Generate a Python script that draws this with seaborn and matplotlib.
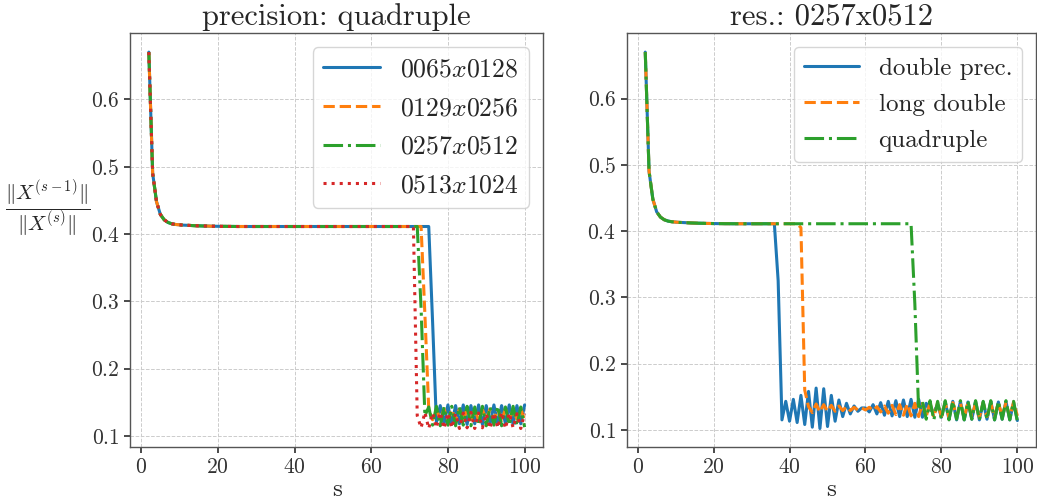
import matplotlib
matplotlib.use("Agg")
import matplotlib.pyplot as plt
from matplotlib.ticker import FuncFormatter
import numpy as np
import pandas as pd
import seaborn as sns

# iteration index
s = list(range(2, 101))

# shared transient (s = 2 .. 35), identical for every run
head = [0.670, 0.490, 0.448, 0.429, 0.421, 0.417, 0.415, 0.414, 0.4135, 0.413,
        0.4128, 0.4125, 0.4122, 0.412, 0.4118, 0.4117, 0.4115, 0.4114, 0.4113, 0.4112,
        0.4112, 0.4111, 0.4111, 0.411, 0.411, 0.411, 0.411, 0.411, 0.411, 0.411,
        0.411, 0.411, 0.411, 0.411]

# quadruple precision, resolution sweep (s = 36 .. 100)
quad_0065 = head + [
    0.411, 0.411, 0.411, 0.411, 0.411, 0.411, 0.411, 0.411, 0.411, 0.411,
    0.411, 0.411, 0.411, 0.411, 0.411, 0.411, 0.411, 0.411, 0.411, 0.411,
    0.411, 0.411, 0.411, 0.411, 0.411, 0.411, 0.411, 0.411, 0.411, 0.411,
    0.411, 0.411, 0.411, 0.411, 0.411, 0.411, 0.411, 0.411, 0.411, 0.411,
    0.270, 0.120, 0.145, 0.118, 0.146, 0.117, 0.145, 0.118, 0.146, 0.117,
    0.145, 0.118, 0.146, 0.117, 0.145, 0.118, 0.146, 0.117, 0.145, 0.118,
    0.146, 0.117, 0.145, 0.118, 0.146]
quad_0129 = head + [
    0.411, 0.411, 0.411, 0.411, 0.411, 0.411, 0.411, 0.411, 0.411, 0.411,
    0.411, 0.411, 0.411, 0.411, 0.411, 0.411, 0.411, 0.411, 0.411, 0.411,
    0.411, 0.411, 0.411, 0.411, 0.411, 0.411, 0.411, 0.411, 0.411, 0.411,
    0.411, 0.411, 0.411, 0.411, 0.411, 0.411, 0.411, 0.411, 0.280, 0.140,
    0.124, 0.139, 0.125, 0.140, 0.123, 0.139, 0.124, 0.140, 0.125, 0.139,
    0.124, 0.140, 0.123, 0.139, 0.125, 0.140, 0.124, 0.139, 0.123, 0.140,
    0.124, 0.139, 0.125, 0.140, 0.124]
quad_0257 = head + [
    0.411, 0.411, 0.411, 0.411, 0.411, 0.411, 0.411, 0.411, 0.411, 0.411,
    0.411, 0.411, 0.411, 0.411, 0.411, 0.411, 0.411, 0.411, 0.411, 0.411,
    0.411, 0.411, 0.411, 0.411, 0.411, 0.411, 0.411, 0.411, 0.411, 0.411,
    0.411, 0.411, 0.411, 0.411, 0.411, 0.411, 0.411, 0.290, 0.130, 0.143,
    0.116, 0.144, 0.115, 0.143, 0.116, 0.144, 0.115, 0.143, 0.116, 0.144,
    0.115, 0.143, 0.116, 0.144, 0.115, 0.143, 0.116, 0.144, 0.115, 0.143,
    0.116, 0.144, 0.115, 0.143, 0.113]
quad_0513 = head + [
    0.411, 0.411, 0.411, 0.411, 0.411, 0.411, 0.411, 0.411, 0.411, 0.411,
    0.411, 0.411, 0.411, 0.411, 0.411, 0.411, 0.411, 0.411, 0.411, 0.411,
    0.411, 0.411, 0.411, 0.411, 0.411, 0.411, 0.411, 0.411, 0.411, 0.411,
    0.411, 0.411, 0.411, 0.411, 0.411, 0.411, 0.130, 0.112, 0.135, 0.111,
    0.134, 0.112, 0.135, 0.111, 0.134, 0.112, 0.133, 0.111, 0.134, 0.112,
    0.135, 0.111, 0.134, 0.112, 0.133, 0.111, 0.134, 0.112, 0.135, 0.111,
    0.134, 0.112, 0.133, 0.111, 0.133]

# resolution 0257x0512, precision sweep (s = 36 .. 100)
double_prec = head + [
    0.411, 0.325, 0.115, 0.143, 0.113, 0.146, 0.111, 0.152, 0.108, 0.158,
    0.104, 0.163, 0.102, 0.162, 0.105, 0.152, 0.113, 0.145, 0.120, 0.140,
    0.124, 0.136, 0.128, 0.133, 0.133, 0.127, 0.138, 0.124, 0.141, 0.122,
    0.143, 0.121, 0.144, 0.120, 0.145, 0.120, 0.146, 0.119, 0.146, 0.119,
    0.140, 0.130, 0.127, 0.138, 0.119, 0.142, 0.116, 0.143, 0.115, 0.143,
    0.115, 0.142, 0.116, 0.143, 0.115, 0.142, 0.116, 0.143, 0.115, 0.142,
    0.116, 0.143, 0.115, 0.141, 0.114]
long_double = head + [
    0.411, 0.411, 0.411, 0.411, 0.411, 0.411, 0.411, 0.405, 0.160, 0.135,
    0.126, 0.139, 0.127, 0.138, 0.128, 0.137, 0.128, 0.136, 0.129, 0.135,
    0.129, 0.134, 0.130, 0.133, 0.130, 0.134, 0.129, 0.135, 0.127, 0.136,
    0.125, 0.137, 0.123, 0.138, 0.122, 0.139, 0.121, 0.140, 0.120, 0.140,
    0.120, 0.141, 0.119, 0.141, 0.120, 0.140, 0.119, 0.141, 0.120, 0.140,
    0.119, 0.141, 0.120, 0.140, 0.119, 0.141, 0.120, 0.140, 0.119, 0.141,
    0.120, 0.141, 0.119, 0.142, 0.121]

res_labels = ["0065x0128", "0129x0256", "0257x0512", "0513x1024"]
prec_labels = ["double prec.", "long double", "quadruple"]

sns.set_theme(style="whitegrid")
plt.rcParams.update({
    "mathtext.fontset": "cm",
    "font.family": ["cmr10", "DejaVu Serif"],
    "axes.formatter.use_mathtext": True,
    "axes.edgecolor": "#555555",
    "axes.linewidth": 1.0,
    "grid.color": "#cccccc",
    "grid.linestyle": "--",
    "grid.linewidth": 0.7,
    "xtick.bottom": True,
    "ytick.left": True,
    "xtick.major.size": 4,
    "ytick.major.size": 4,
    "xtick.color": "#333333",
    "ytick.color": "#333333",
})

palette = sns.color_palette("tab10")
styles = ["-", "--", "-.", ":"]

fig = plt.figure(figsize=(10.37, 5.03), dpi=100)
ax1 = fig.add_axes([0.1254, 0.1107, 0.3986, 0.8231])
ax2 = fig.add_axes([0.6043, 0.1107, 0.3947, 0.8231])

left_series = [quad_0065, quad_0129, quad_0257, quad_0513]
for i, (vals, lab) in enumerate(zip(left_series, res_labels)):
    a, b = lab.split("x")
    sns.lineplot(x=s, y=vals, ax=ax1, color=palette[i], linestyle=styles[i],
                 linewidth=2.2, label=rf"${a}x{b}$", sort=False)

right_series = [double_prec, long_double, quad_0257]
for i, (vals, lab) in enumerate(zip(right_series, prec_labels)):
    sns.lineplot(x=s, y=vals, ax=ax2, color=palette[i], linestyle=styles[i],
                 linewidth=2.2, label=lab, sort=False)

fmt = FuncFormatter(lambda v, p: f"${v:g}$")
for ax, fs, ls in ((ax1, 18.5, 0.58), (ax2, 18, 0.55)):
    ax.set_xticks([0, 20, 40, 60, 80, 100])
    ax.set_yticks([0.1, 0.2, 0.3, 0.4, 0.5, 0.6])
    ax.xaxis.set_major_formatter(fmt)
    ax.yaxis.set_major_formatter(fmt)
    ax.tick_params(labelsize=15.5)
    ax.set_xlabel("s", fontsize=18, labelpad=1)
    ax.set_ylabel("")
    for sp in ax.spines.values():
        sp.set_visible(True)
        sp.set_color("#555555")
    leg = ax.legend(loc="upper right", fontsize=fs, frameon=True, fancybox=True,
                    handlelength=2.2, borderpad=0.4, labelspacing=ls,
                    borderaxespad=0.55)
    leg.get_frame().set_edgecolor("#cccccc")

ax1.set_title("precision: quadruple", fontsize=22)
ax2.set_title("res.: 0257x0512", fontsize=22)
ax1.set_ylabel(r"$\dfrac{\|X^{(s-1)}\|}{\|X^{(s)}\|}$", fontsize=15,
               rotation=0, va="center", ha="center")
ax1.yaxis.set_label_coords(-0.2, 0.575)

fig.savefig("out.png", dpi=100)
